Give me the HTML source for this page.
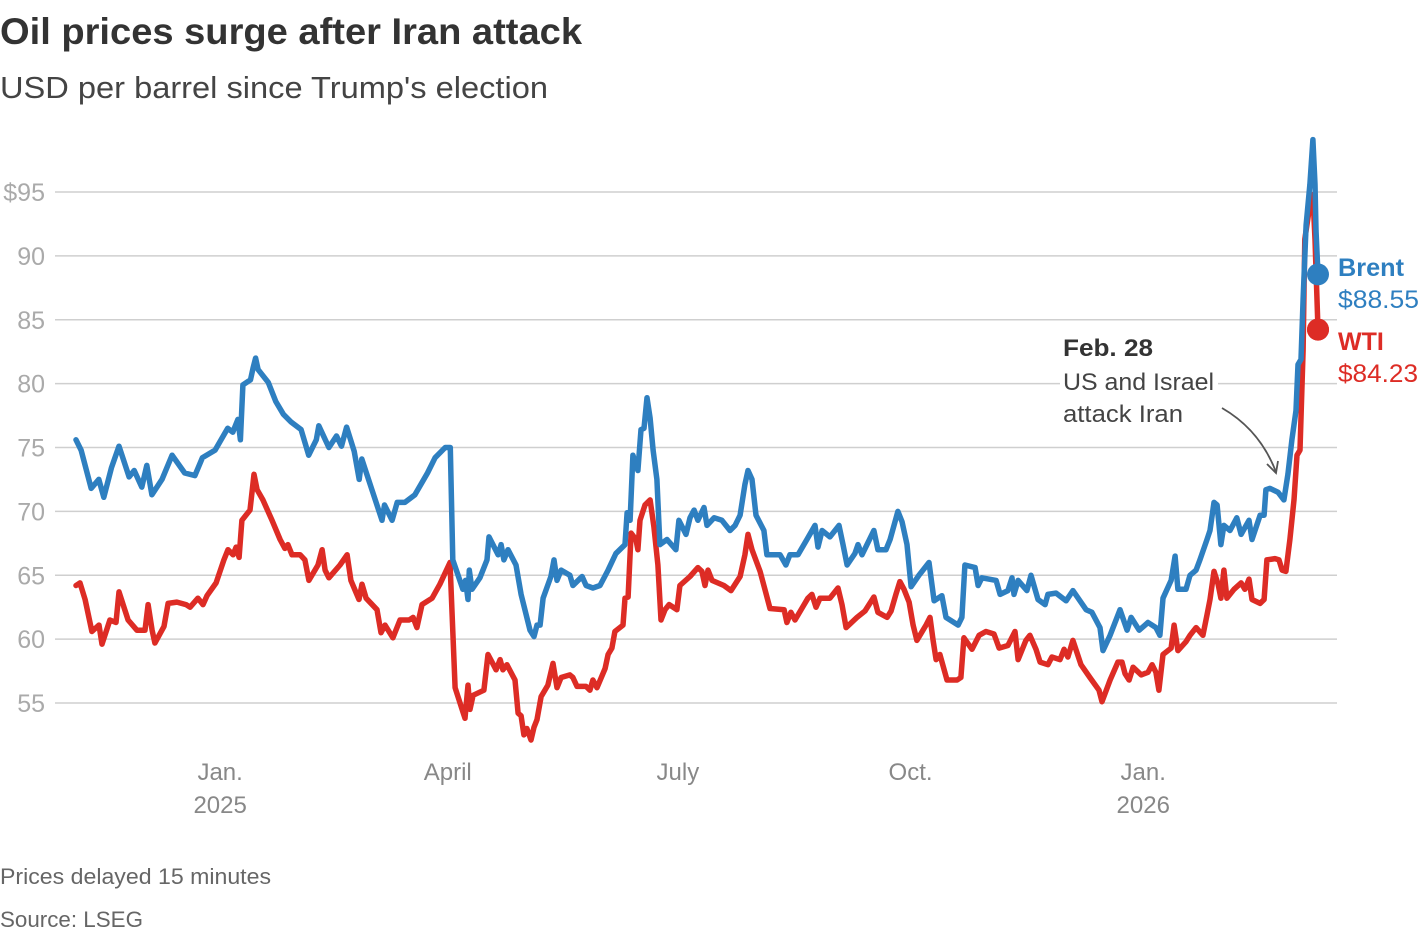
<!DOCTYPE html>
<html><head><meta charset="utf-8">
<style>
body{margin:0;background:#fff;width:1420px;height:934px;overflow:hidden;font-family:"Liberation Sans",sans-serif;}
svg text{font-family:"Liberation Sans",sans-serif;}
</style></head>
<body>
<svg id="chart" width="1420" height="934" viewBox="0 0 1420 934" xmlns="http://www.w3.org/2000/svg">
<text x="0" y="44" font-size="37" font-weight="bold" fill="#333" textLength="582" lengthAdjust="spacingAndGlyphs">Oil prices surge after Iran attack</text>
<text x="0" y="98" font-size="31" fill="#444" textLength="548" lengthAdjust="spacingAndGlyphs">USD per barrel since Trump's election</text>
<g id="grid"></g>
<g id="yticks"></g>
<g id="xticks"></g>
<g id="series"></g>
<g>
<rect x="1060" y="366" width="158" height="28" fill="#fff"/>
<text x="1063" y="356" font-size="24" font-weight="bold" fill="#333" textLength="90" lengthAdjust="spacingAndGlyphs">Feb. 28</text>
<text x="1063" y="390" font-size="24" fill="#444" textLength="151" lengthAdjust="spacingAndGlyphs">US and Israel</text>
<text x="1063" y="422" font-size="24" fill="#444" textLength="120" lengthAdjust="spacingAndGlyphs">attack Iran</text>
<path d="M1222,408 Q1260,430 1276,472" fill="none" stroke="#555" stroke-width="1.8"/>
<path d="M1267,464 L1276,473 L1278,461" fill="none" stroke="#555" stroke-width="1.8"/>
</g>
<g>
<text x="1338" y="276" font-size="25" font-weight="bold" fill="#2e7fc0" textLength="66" lengthAdjust="spacingAndGlyphs">Brent</text>
<text x="1338" y="308" font-size="25" fill="#2e7fc0" textLength="81" lengthAdjust="spacingAndGlyphs">$88.55</text>
<text x="1338" y="350" font-size="25" font-weight="bold" fill="#dd2c25">WTI</text>
<text x="1338" y="382" font-size="25" fill="#dd2c25" textLength="80" lengthAdjust="spacingAndGlyphs">$84.23</text>
</g>
<text x="0" y="884" font-size="22" fill="#666" textLength="271" lengthAdjust="spacingAndGlyphs">Prices delayed 15 minutes</text>
<text x="0" y="927" font-size="22" fill="#666" textLength="143" lengthAdjust="spacingAndGlyphs">Source: LSEG</text>
</svg>
<script>
// days since Nov 5, 2024
const brentDays=[0,2,6,9,11,14,17,21,23,26,28,30,34,38,43,47,50,55,60,62,64,65,66,69,70,71,72,76,79,82,85,89,92,95,96,100,103,105,107,110,112,113,117,121,122,125,127,130,134,139,142,146,148,149,153,154,155,155.5,156.6,159.7,162.5,163.3,166.9,168.1,169.2,170.8,174,176,179.5,181.1,182.3,183.5,184.7,187.8,189,190.2,191.8,195.3,196.5,200.1,201.7,204.4,207.2,210.4,213.5,217.1,217.9,219.1,220.2,222.2,223.4,224.6,225.8,227,228.2,229.7,230.9,233.7,237.2,238.4,241.2,242.8,244.4,245.9,248.3,249.5,252.3,255.4,258.6,260.6,262.6,264.5,265.7,267.3,268.9,272,273.2,278.4,280.7,282.3,285.5,289,292.2,293.4,295,298.1,301.7,303.3,304.9,308,309.2,310.8,315.5,317.1,320.3,321.9,325,326.6,328.6,330.2,333.3,337.3,339.3,342.4,344,348.8,350.3,351.5,355.5,356.7,358.2,363.8,365.4,368.5,370.1,370.9,372.5,376,377.6,380.4,383.2,384.3,387.5,391.5,394.2,399.4,401.7,404.9,406.1,408.9,412.8,415.6,417.2,420.4,423.9,427,428.6,429.8,433,434.6,435.7,438.9,440.5,442.9,444.4,447.2,448.4,450,451.2,452.7,453.9,456.3,459,460.7,463.8,465,468.2,469.8,470.5,472.1,475.3,477.6,479.2,480.8,482.4,483.2,484.4,485.2,486.4,487.9,489.1,489.9,490.3,491.1];
const brentValues=[75.6,74.8,71.8,72.5,71.1,73.4,75.1,72.7,73.2,71.9,73.6,71.3,72.5,74.4,73.0,72.8,74.2,74.8,76.5,76.2,77.2,75.6,79.9,80.3,81.2,82.0,81.1,80.1,78.6,77.6,77.0,76.4,74.4,75.6,76.7,75.0,75.9,75.1,76.6,74.7,72.5,74.1,71.7,69.3,70.5,69.3,70.7,70.7,71.3,73.0,74.2,75.0,75.0,66.2,63.9,64.6,63.1,65.4,63.9,64.8,66.2,68.0,66.6,67.4,66.2,67.0,65.8,63.5,60.7,60.2,61.1,61.1,63.2,64.9,66.2,64.6,65.4,65.0,64.2,64.9,64.2,64.0,64.2,65.4,66.7,67.4,69.9,69.3,74.4,73.2,76.4,76.5,78.9,77.3,74.8,72.5,67.4,67.8,67.0,69.3,68.2,69.5,70.1,69.3,70.3,68.9,69.5,69.3,68.5,68.9,69.7,72.1,73.2,72.5,69.7,68.5,66.6,66.6,65.8,66.6,66.6,67.8,68.9,67.2,68.5,68.0,68.9,67.4,65.8,66.7,67.4,66.6,68.5,67.0,67.0,67.8,70.0,69.2,67.4,64.1,65.0,66.0,63.0,63.4,61.7,61.1,61.7,65.8,65.6,64.2,64.8,64.6,63.5,63.8,64.8,63.5,64.6,63.8,65.0,63.1,62.7,63.5,63.6,63.0,63.8,62.3,62.1,60.9,59.1,60.3,62.3,60.7,61.7,60.7,61.3,60.9,60.3,63.2,64.6,66.5,63.9,63.9,65.0,65.4,66.2,67.8,68.5,70.7,70.5,67.4,68.9,68.5,69.5,68.2,69.3,67.8,69.7,69.7,71.7,71.8,71.5,70.9,72.9,75.6,77.9,81.5,81.9,86.6,92.4,95.6,99.1,95.6,92.0,88.55];
const wtiDays=[0,1.6,3.6,6.3,9.1,10.3,13.4,15.8,17,20.6,24.1,27.3,28.5,30.1,31.2,34.8,36.4,39.9,43.5,45.1,48.2,50.2,51.8,55.4,58.5,60.1,62.1,63.3,64.5,65.6,68.8,70.4,71.6,73.9,77.5,80.7,82.6,83.8,85.4,88.6,90.5,92.1,95.7,97.3,98.5,100,104.4,107.2,108.7,111.9,113.1,114.7,119,120.6,122.2,125.3,128.1,131.7,133.3,134.8,136.8,140.8,143.9,147.9,149.9,153,153.8,155,155.8,157,161.3,162.9,166.1,167.7,168.8,170.4,173.6,174.8,176,177.1,178.3,179.9,181.1,182.3,183.9,186.6,188.6,190.2,191.8,195.3,196.5,198.1,201.7,203.2,204.4,206,209.2,210.4,211.9,213.1,216.3,217.1,218.3,219.5,221.4,222.2,223,225,227,228.5,230.1,231.3,232.9,234.5,237.6,238.8,242.8,245.9,247.5,248.7,249.9,251.5,256.2,259,262.6,264.5,265.7,267.3,270.5,272.4,274.4,280,281.1,282.7,284.3,287.9,289.4,291,292.6,294.2,298.1,301.3,302.9,304.5,308.8,312,315.5,317.1,320.7,322.3,324.2,325.8,327.4,329.4,331,332.5,336.1,337.7,338.9,340.1,341.6,344.4,348.4,349.9,351.1,354.3,357.1,359.8,363,365,368.5,371.3,372.5,375.6,377.2,379.6,381.2,384.3,385.9,389.1,390.7,392.2,394.2,397.4,400.9,404.5,405.7,408.9,412,413.6,414.8,416.4,418,421.2,423.9,425.5,427,428.2,429.8,433,434.2,435.7,438.9,440.5,442.9,445.6,447.2,448.4,450,451.6,452.7,453.9,455.1,457.9,460.7,462.2,463.8,465,468.2,469.8,470.9,474.1,475.7,476.9,478.4,480,481.6,482.8,484,485.2,485.9,487.9,489.1,489.9,491.1];
const wtiValues=[64.2,64.4,63.1,60.6,61.1,59.6,61.5,61.3,63.7,61.5,60.7,60.7,62.7,60.7,59.7,61.0,62.8,62.9,62.7,62.5,63.2,62.7,63.4,64.4,66.2,67.0,66.6,67.2,66.4,69.3,70.1,72.9,71.7,70.9,69.3,67.8,67.1,67.4,66.6,66.6,66.2,64.6,65.8,67.0,65.4,64.8,65.8,66.6,64.6,63.1,64.3,63.2,62.3,60.5,61.1,60.1,61.5,61.5,61.7,60.9,62.7,63.2,64.3,66.0,56.2,54.3,53.8,56.4,54.5,55.6,56.0,58.8,57.6,58.4,57.6,58.0,56.8,54.2,54.0,52.5,53.0,52.1,53.1,53.7,55.5,56.4,58.1,56.2,57.0,57.2,57.0,56.3,56.3,56.0,56.8,56.2,57.7,58.8,59.3,60.6,61.1,63.2,63.3,68.3,67.8,67.0,69.3,70.5,70.9,68.8,65.8,61.5,62.3,62.7,62.3,64.2,64.9,65.6,65.3,64.2,65.4,64.6,64.2,63.8,64.9,66.6,68.2,67.0,65.3,63.9,62.4,62.3,61.3,62.1,61.5,62.7,63.2,63.5,62.5,63.2,63.2,64.0,62.7,60.9,61.7,62.2,63.3,62.1,61.7,62.2,63.5,64.5,63.9,62.9,61.1,59.9,61.1,61.7,59.9,58.4,58.8,56.8,56.8,57.0,60.1,59.2,60.3,60.6,60.4,59.3,59.5,60.6,58.4,59.9,60.3,59.2,58.2,58.0,58.6,58.4,59.2,58.6,59.9,58.0,57.0,56.0,55.1,56.8,58.2,58.2,57.3,56.8,57.8,57.2,57.4,58.0,57.4,56.0,58.8,59.3,61.1,59.1,59.8,60.3,60.9,60.3,61.9,63.1,65.3,64.3,63.2,65.4,63.2,63.9,64.4,63.9,64.7,63.1,62.8,63.1,66.2,66.3,66.2,65.4,65.3,67.8,70.9,74.4,74.8,82.6,91.3,94.0,94.8,91.3,84.23];
const yTicks=[55,60,65,70,75,80,85,90,95];
const yTickLabels=["55","60","65","70","75","80","85","90","$95"];
const xTickDays=[57,147,238,330,422];
const xTickLabels=["Jan.","April","July","Oct.","Jan."];
const xTickYears=["2025","","","","2026"];

const NS="http://www.w3.org/2000/svg";
function xScale(d){return 76+d*2.529;}
function yScale(v){return 703-(v-55)*12.775;}
function mk(tag,attrs,parent){const e=document.createElementNS(NS,tag);for(const k in attrs)e.setAttribute(k,attrs[k]);parent.appendChild(e);return e;}
const grid=document.getElementById('grid'),yt=document.getElementById('yticks'),xt=document.getElementById('xticks'),ser=document.getElementById('series');
yTicks.forEach((v,i)=>{
  const l=mk('line',{x1:55,x2:1337,y1:yScale(v),y2:yScale(v),stroke:'#cfcfcf','stroke-width':1.5},grid);
  
  
  const t=mk('text',{x:45,y:yScale(v)+9,'text-anchor':'end','font-size':25,fill:'#aaa'},yt);
  t.textContent=yTickLabels[i];
  
  
});
xTickDays.forEach((d,i)=>{
  const t=mk('text',{x:xScale(d),y:780,'text-anchor':'middle','font-size':24,fill:'#888'},xt);
  t.textContent=xTickLabels[i];
  
  
  if(xTickYears[i]){
    const y=mk('text',{x:xScale(d),y:813,'text-anchor':'middle','font-size':24,fill:'#888'},xt);
    y.textContent=xTickYears[i];
    
    
  }
});
function drawLine(days,vals,color,name){
  const d=days.map((x,i)=>(i?'L':'M')+xScale(x).toFixed(1)+','+yScale(vals[i]).toFixed(1)).join('');
  const p=mk('path',{d:d,fill:'none',stroke:color,'stroke-width':5.5,'stroke-linejoin':'round','stroke-linecap':'round'},ser);
  
  
  const n=days.length-1;
  const c=mk('circle',{cx:xScale(days[n]),cy:yScale(vals[n]),r:11,fill:color},ser);
  
  
}
drawLine(wtiDays,wtiValues,'#dd2c25','wti');
drawLine(brentDays,brentValues,'#2e7fc0','brent');
const wn=wtiDays.length-1;
const wd=mk('circle',{cx:xScale(wtiDays[wn]),cy:yScale(wtiValues[wn]),r:11,fill:'#dd2c25'},ser);


</script>
</body></html>
